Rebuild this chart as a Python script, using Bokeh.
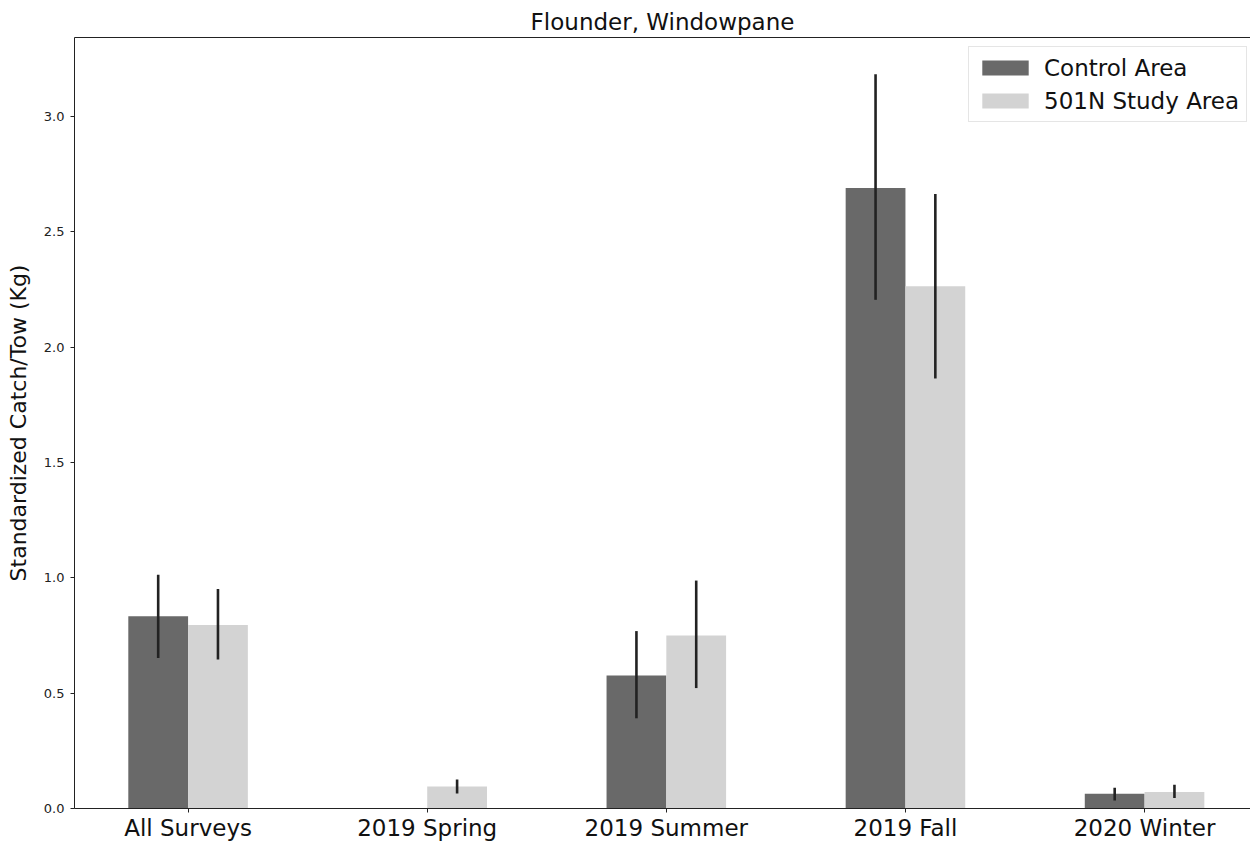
import numpy as np
from bokeh.plotting import figure
from bokeh.models import (Range1d, FixedTicker, PrintfTickFormatter, LinearAxis,
                          Legend, LegendItem, ColumnDataSource)
from bokeh.embed import file_html
from bokeh.resources import INLINE

nan = float("nan")

categories = ["All Surveys", "2019 Spring", "2019 Summer", "2019 Fall", "2020 Winter"]
control = [0.833, 0.0, 0.576, 2.690, 0.064]
control_lo = [0.652, nan, 0.391, 2.205, 0.035]
control_hi = [1.013, nan, 0.769, 3.183, 0.090]
study = [0.795, 0.095, 0.750, 2.264, 0.071]
study_lo = [0.646, 0.065, 0.522, 1.864, 0.046]
study_hi = [0.951, 0.126, 0.988, 2.664, 0.103]
y_ticks = [0.0, 0.5, 1.0, 1.5, 2.0, 2.5, 3.0]
series_names = ["Control Area", "501N Study Area"]

FONT = "DejaVu Sans"
BAR_W = 0.25
idx = np.arange(len(categories))

p = figure(frame_width=1176, frame_height=771,
           x_range=Range1d(-0.475, 4.443), y_range=Range1d(0, 3.342),
           output_backend="svg", toolbar_location=None,
           min_border_left=74, min_border_right=0, min_border_top=37,
           min_border_bottom=0)
p.outline_line_color = None
p.xgrid.visible = False
p.ygrid.visible = False
p.background_fill_color = "white"
p.border_fill_color = "white"

p.title.text = "Flounder, Windowpane"
p.title.align = "center"
p.title.text_font = FONT
p.title.text_font_size = "23px"
p.title.text_font_style = "normal"
p.title.text_color = "#111111"
p.title.standoff = 6

src_c = ColumnDataSource(dict(x=idx - BAR_W / 2, top=control, lo=control_lo, hi=control_hi))
src_s = ColumnDataSource(dict(x=idx + BAR_W / 2, top=study, lo=study_lo, hi=study_hi))

rc = p.vbar(x="x", top="top", width=BAR_W, source=src_c, fill_color="#696969", line_color=None)
rs = p.vbar(x="x", top="top", width=BAR_W, source=src_s, fill_color="#d3d3d3", line_color=None)
p.segment(x0="x", x1="x", y0="lo", y1="hi", source=src_c, line_color="#222222", line_width=2.6)
p.segment(x0="x", x1="x", y0="lo", y1="hi", source=src_s, line_color="#222222", line_width=2.6)

xa = p.xaxis[0]
xa.ticker = FixedTicker(ticks=list(idx))
xa.major_label_overrides = {int(i): c for i, c in zip(idx, categories)}
xa.major_label_text_font = FONT
xa.major_label_text_font_size = "23px"
xa.major_label_text_color = "#111111"
xa.major_tick_out = 4
xa.major_tick_in = 0
xa.minor_tick_line_color = None
xa.major_label_standoff = 2
xa.axis_line_color = "#222222"
xa.major_tick_line_color = "#222222"

ya = p.yaxis[0]
ya.ticker = FixedTicker(ticks=y_ticks)
ya.formatter = PrintfTickFormatter(format="%.1f")
ya.major_label_text_font = FONT
ya.major_label_text_font_size = "13px"
ya.major_label_text_color = "#222222"
ya.major_tick_out = 4
ya.major_tick_in = 0
ya.minor_tick_line_color = None
ya.major_label_standoff = 6
ya.axis_line_color = "#222222"
ya.major_tick_line_color = "#222222"
ya.axis_label = "Standardized Catch/Tow (Kg)"
ya.axis_label_text_font = FONT
ya.axis_label_text_font_size = "22px"
ya.axis_label_text_font_style = "normal"
ya.axis_label_text_color = "#111111"
ya.axis_label_standoff = 10

top_axis = LinearAxis(major_tick_line_color=None, minor_tick_line_color=None,
                      major_label_text_font_size="0px", major_tick_out=0, major_tick_in=0,
                      major_label_standoff=0, axis_line_color="#222222",
                      ticker=FixedTicker(ticks=[]))
p.add_layout(top_axis, "above")

legend = Legend(items=[LegendItem(label=series_names[0], renderers=[rc]),
                       LegendItem(label=series_names[1], renderers=[rs])],
                location=(894, 686))
legend.label_text_font = FONT
legend.label_text_font_size = "23px"
legend.label_text_color = "#111111"
legend.glyph_width = 58
legend.glyph_height = 19
legend.label_height = 27
legend.label_standoff = 10
legend.spacing = 6
legend.padding = 7
legend.margin = 0
legend.border_line_color = "#cccccc"
legend.border_line_width = 1
legend.background_fill_alpha = 0.9
p.add_layout(legend, "center")

open("out.html", "w").write(file_html(p, INLINE))
